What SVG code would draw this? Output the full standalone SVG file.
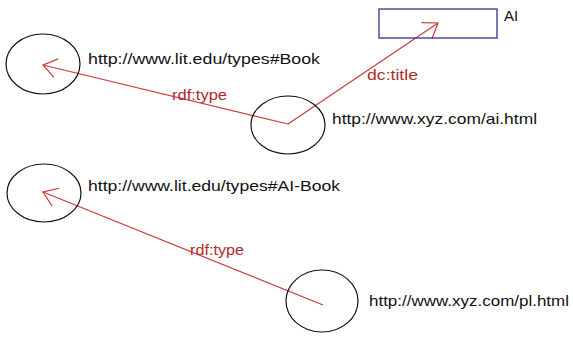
<svg xmlns="http://www.w3.org/2000/svg" width="573" height="340" viewBox="0 0 573 340">
<defs>
<style>
.node{fill:none;stroke:#111;stroke-width:1.2}
.box{fill:none;stroke:#33338a;stroke-width:1.3}
.uri{font-family:"Liberation Sans",Arial,sans-serif;font-size:15px;fill:#111}
.edge{fill:none;stroke:#cc3a3a;stroke-width:1.2}
.lbl{font-family:"Liberation Sans",Arial,sans-serif;font-size:14px;fill:#b22a2a}
</style>
<marker id="arr" markerUnits="userSpaceOnUse" viewBox="-15 -11 17 22" refX="0" refY="0" markerWidth="17" markerHeight="22" orient="auto">
<path d="M-13.5 -9.5 L0 0 L-13.5 9.5" fill="none" stroke="#cc3a3a" stroke-width="1.2"/>
</marker>
</defs>
<rect width="573" height="340" fill="#fff"/>
<g id="connectors">
<line class="edge" x1="288" y1="124" x2="43" y2="65" marker-end="url(#arr)"/>
<line class="edge" x1="288" y1="124" x2="438" y2="23" marker-end="url(#arr)"/>
<line class="edge" x1="323" y1="305" x2="43" y2="192" marker-end="url(#arr)"/>
<text class="lbl" x="172" y="100" textLength="55" lengthAdjust="spacingAndGlyphs">rdf:type</text>
<text class="lbl" x="367" y="80" textLength="51" lengthAdjust="spacingAndGlyphs">dc:title</text>
<text class="lbl" x="190" y="255" textLength="54" lengthAdjust="spacingAndGlyphs">rdf:type</text>
</g>
<g id="book">
<ellipse class="node" cx="43" cy="64" rx="37" ry="30"/>
<text class="uri" x="88" y="64" textLength="232" lengthAdjust="spacingAndGlyphs">http://www.lit.edu/types#Book</text>
</g>
<g id="ai-html">
<ellipse class="node" cx="288" cy="125" rx="37" ry="29"/>
<text class="uri" x="332" y="124" textLength="205" lengthAdjust="spacingAndGlyphs">http://www.xyz.com/ai.html</text>
</g>
<g id="ai-literal">
<rect class="box" x="379" y="9" width="118" height="29"/>
<text class="uri" x="504" y="21">AI</text>
</g>
<g id="ai-book">
<ellipse class="node" cx="44" cy="193" rx="37" ry="29"/>
<text class="uri" x="88" y="191" textLength="252" lengthAdjust="spacingAndGlyphs">http://www.lit.edu/types#AI-Book</text>
</g>
<g id="pl-html">
<ellipse class="node" cx="322" cy="301" rx="36" ry="31"/>
<text class="uri" x="369" y="306" textLength="200" lengthAdjust="spacingAndGlyphs">http://www.xyz.com/pl.html</text>
</g>
</svg>
